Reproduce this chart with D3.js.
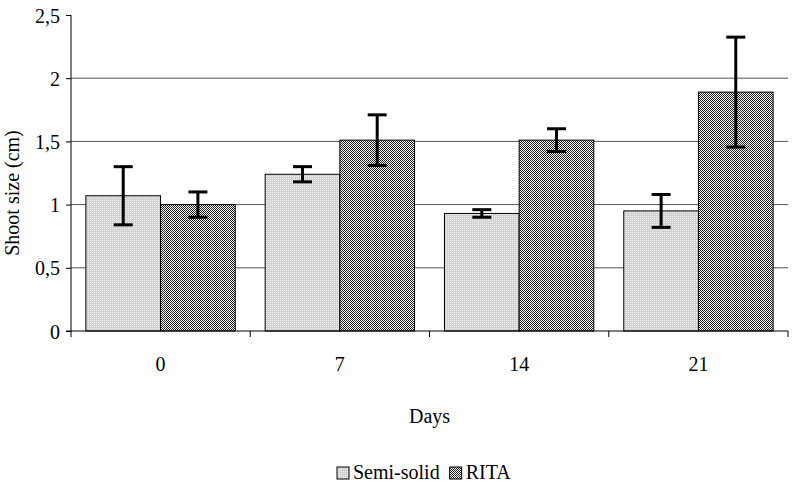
<!DOCTYPE html>
<html><head><meta charset="utf-8">
<script src="https://cdn.jsdelivr.net/npm/d3@7"></script>
<style>body{margin:0;background:#fff}svg{display:block}</style>
</head><body><svg id="c" width="792" height="487"></svg>
<script>
const categories = ["0", "7", "14", "21"];
const seriesNames = ["Semi-solid", "RITA"];
const semiSolid = [1.07, 1.24, 0.93, 0.95];
const semiSolidErr = [0.23, 0.06, 0.03, 0.13];
const rita = [1.00, 1.51, 1.51, 1.89];
const ritaErr = [0.10, 0.20, 0.09, 0.435];
const yTicks = [0, 0.5, 1, 1.5, 2, 2.5];
const yTickLabels = ["0", "0,5", "1", "1,5", "2", "2,5"];

const FONT = "'Liberation Serif', 'Times New Roman', Times, serif";
const FS = "20px";
const svg = d3.select("#c").attr("font-family", FONT);
const defs = svg.append("defs");
const p1 = defs.append("pattern").attr("id","pSemi").attr("width",2).attr("height",2).attr("patternUnits","userSpaceOnUse");
p1.append("rect").attr("width",2).attr("height",2).attr("fill","#d2d2d2");
p1.append("rect").attr("width",1).attr("height",1).attr("fill","#f0f0f0");
const p2 = defs.append("pattern").attr("id","pRita").attr("width",2).attr("height",2).attr("patternUnits","userSpaceOnUse");
p2.append("rect").attr("width",2).attr("height",2).attr("fill","#ffffff");
[[0,0],[1,1]].forEach(([x,y])=>p2.append("rect").attr("x",x).attr("y",y).attr("width",1).attr("height",1).attr("fill","#222"));

const L=71, R=788, T=15, B=331;
const x = d3.scaleBand().domain(categories).range([L,R]).paddingInner(0.167).paddingOuter(0.083);
const xs = d3.scaleBand().domain(seriesNames).range([0,x.bandwidth()]);
const y = d3.scaleLinear().domain([0,2.5]).range([B,T]);

// gridlines
svg.append("g").selectAll("line").data(yTicks.filter(v=>v>0&&v<2.5)).join("line")
  .attr("x1",L).attr("x2",R).attr("y1",d=>y(d)).attr("y2",d=>y(d))
  .attr("stroke","#555").attr("stroke-width",1);

const data = [{vals:semiSolid, errs:semiSolidErr, name:"Semi-solid", fill:"url(#pSemi)"},
              {vals:rita, errs:ritaErr, name:"RITA", fill:"url(#pRita)"}];
data.forEach(s=>{
  const g = svg.append("g");
  g.selectAll("rect").data(categories).join("rect")
    .attr("x",(c)=>x(c)+xs(s.name)).attr("width",xs.bandwidth())
    .attr("y",(c,i)=>y(s.vals[i])).attr("height",(c,i)=>B-y(s.vals[i]))
    .attr("fill",s.fill).attr("stroke","#000").attr("stroke-width",1);
});
data.forEach(s=>{
  const g = svg.append("g").attr("stroke","#000").attr("stroke-width",3);
  categories.forEach((c,i)=>{
    const cx = x(c)+xs(s.name)+xs.bandwidth()/2;
    const hi = y(s.vals[i]+s.errs[i]), lo = y(s.vals[i]-s.errs[i]);
    g.append("line").attr("x1",cx).attr("x2",cx).attr("y1",hi).attr("y2",lo);
    g.append("line").attr("x1",cx-9.5).attr("x2",cx+9.5).attr("y1",hi).attr("y2",hi);
    g.append("line").attr("x1",cx-9.5).attr("x2",cx+9.5).attr("y1",lo).attr("y2",lo);
  });
});

// y axis
const ya = svg.append("g").attr("transform",`translate(${L},0)`)
  .call(d3.axisLeft(y).tickValues(yTicks).tickFormat((d,i)=>yTickLabels[i]).tickSize(5).tickPadding(6));
ya.attr("font-family", FONT).attr("font-size", FS);
ya.select(".domain").attr("stroke","#000").attr("d",`M0,${T}V${B+6}`);
ya.selectAll(".tick line").attr("stroke","#000");
ya.selectAll("text").attr("fill","#000").attr("dy","0.35em");

// x axis
const xa = svg.append("g").attr("transform",`translate(0,${B})`).attr("font-size",FS);
xa.append("line").attr("x1",L-5).attr("x2",R).attr("stroke","#000");
const bounds = categories.map(c=>x(c)-x.step()*x.paddingInner()/2).concat([R]);
xa.selectAll("line.t").data(bounds.slice(1)).join("line").attr("class","t")
  .attr("x1",d=>d).attr("x2",d=>d).attr("y1",0).attr("y2",6).attr("stroke","#000");
xa.selectAll("text").data(categories).join("text")
  .attr("x",c=>x(c)+x.bandwidth()/2).attr("y",40).attr("text-anchor","middle").text(d=>d);

// y title
svg.append("text").attr("transform",`translate(19,${(T+B)/2+20}) rotate(-90)`)
  .attr("text-anchor","middle").attr("font-size",FS).text("Shoot size (cm)");
// x title
svg.append("text").attr("x",(L+R)/2).attr("y",423).attr("text-anchor","middle")
  .attr("font-size",FS).text("Days");

// legend
const lg = svg.append("g").attr("transform","translate(337,479)");
let lx = 0;
data.forEach(s=>{
  lg.append("rect").attr("x",lx).attr("y",-12).attr("width",12).attr("height",12)
    .attr("fill",s.fill).attr("stroke","#000").attr("stroke-width",1);
  const t = lg.append("text").attr("x",lx+16).attr("y",0).attr("font-size",FS).text(s.name);
  lx += 16 + t.node().getComputedTextLength() + 10;
});
</script></body></html>
